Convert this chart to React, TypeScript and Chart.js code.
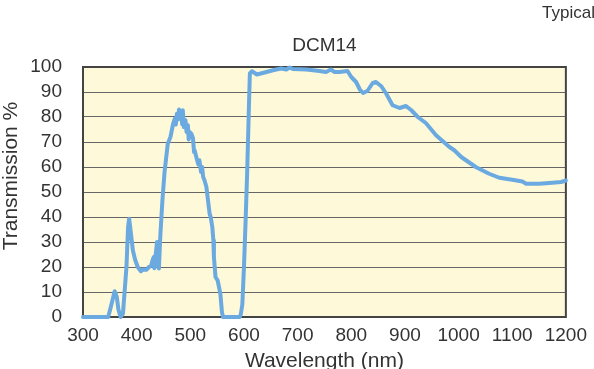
import React, { useEffect, useRef } from "react";
import { Chart, registerables } from "chart.js";

Chart.register(...registerables);

const chartTitle = "DCM14";
const cornerNote = "Typical";
const xAxisTitle = "Wavelength (nm)";
const yAxisTitle = "Transmission %";

const wavelengths = [
  300, 347, 353, 359, 363, 366, 370, 374.5, 381, 384, 386, 389, 393, 397, 402, 408, 412, 418, 423, 427,
  430, 432, 433, 436, 438, 440, 441.5, 444, 448, 452, 458, 463, 468, 471, 473, 475, 477, 479, 481, 483,
  485, 486, 488, 491, 493, 495.5, 497, 499, 502, 505, 507, 508, 512, 515, 517, 520, 522, 524, 526.6, 530,
  533, 536, 538, 541, 543, 544, 545, 547, 551, 556, 559, 561, 592, 594, 597, 600, 603, 606, 609, 611,
  615, 624, 642, 654, 669, 679, 685, 691, 716, 741, 753, 762, 769, 778, 793, 800, 809, 816, 822, 830,
  840, 846, 856, 865, 877, 890, 902, 912, 924, 939, 958, 983, 992, 1005, 1032, 1057, 1076, 1100, 1119, 1126,
  1150, 1175, 1191, 1200,
];

const transmission = [
  0, 0, 5, 10.3, 8, 3, 0, 1.4, 20, 36, 39.3, 34, 26.6, 23, 20, 18.3, 19, 18.9, 20, 20.6,
  23, 24, 19.5, 26, 30, 22, 19.4, 32, 46.6, 58, 69.3, 72, 77.3, 79.3, 77, 81.3, 79, 83, 79.5, 80.7,
  77, 82.7, 76, 78.7, 74, 76.7, 71, 74, 73.3, 71.5, 66, 66.7, 63.3, 61, 62.7, 58, 60, 56, 54.6, 52,
  46.6, 41.3, 40, 36, 30.6, 24, 21.3, 16, 14.6, 9.3, 1.9, 0, 0, 1, 5, 20, 38, 58, 82, 97.4,
  98.3, 97, 98, 98.7, 99.4, 99, 99.8, 99.2, 99, 98.4, 98, 99, 98, 98, 98.4, 96, 94, 91, 89.6, 90.4,
  93.6, 94, 92.3, 89.4, 84.7, 83.6, 84.4, 82.7, 80, 77.6, 72.7, 68, 66.7, 64, 60, 57.3, 55.7, 54.9, 54.2, 53.3,
  53.3, 53.7, 54, 54.6,
];

const xMin = 300;
const xMax = 1200;
const xStep = 100;
const yMin = 0;
const yMax = 100;
const yStep = 10;

const FONT = "'Liberation Sans', Arial, sans-serif";
const TEXT_COLOR = "#333333";

const decorPlugin = {
  id: "decor",
  beforeDraw(chart: any) {
    const { ctx, chartArea } = chart;
    ctx.save();
    ctx.fillStyle = "#fef9d8";
    ctx.fillRect(chartArea.left, chartArea.top, chartArea.right - chartArea.left, chartArea.bottom - chartArea.top);
    ctx.restore();
  },
  beforeDatasetsDraw(chart: any) {
    const { ctx, chartArea } = chart;
    ctx.save();
    ctx.strokeStyle = "#444444";
    ctx.lineWidth = 2;
    ctx.strokeRect(chartArea.left, chartArea.top, chartArea.right - chartArea.left, chartArea.bottom - chartArea.top);
    ctx.restore();
  },
  afterDraw(chart: any) {
    const { ctx, chartArea, width } = chart;
    const cx = (chartArea.left + chartArea.right) / 2;
    ctx.save();
    ctx.fillStyle = TEXT_COLOR;
    ctx.textBaseline = "middle";
    ctx.textAlign = "center";
    ctx.font = `19px ${FONT}`;
    ctx.fillText(chartTitle, cx, 46);
    ctx.textAlign = "right";
    ctx.font = `17px ${FONT}`;
    ctx.fillText(cornerNote, width + 1, 13);
    ctx.textAlign = "center";
    ctx.font = `21px ${FONT}`;
    ctx.fillText(xAxisTitle, cx, 361);
    ctx.translate(11, 176);
    ctx.rotate(-Math.PI / 2);
    ctx.fillText(yAxisTitle, 0, 0);
    ctx.restore();
  },
};

export default function App() {
  const canvasRef = useRef<HTMLCanvasElement | null>(null);

  useEffect(() => {
    const canvas = canvasRef.current;
    if (!canvas) return;
    const points = wavelengths.map((w, i) => ({ x: w, y: transmission[i] }));
    const chart = new Chart(canvas, {
      type: "line",
      data: {
        datasets: [
          {
            data: points,
            borderColor: "#6aaae0",
            borderWidth: 4,
            pointRadius: 0,
            tension: 0,
            fill: false,
            clip: false as any,
            borderJoinStyle: "round",
            borderCapStyle: "round",
          },
        ],
      },
      options: {
        animation: false,
        responsive: false,
        maintainAspectRatio: false,
        layout: { padding: { top: 67, right: 27, left: 0, bottom: 0 } },
        plugins: {
          legend: { display: false },
          tooltip: { enabled: false },
          title: { display: false },
        },
        scales: {
          x: {
            type: "linear",
            min: xMin,
            max: xMax,
            grid: { display: false, drawTicks: false },
            border: { display: false },
            ticks: {
              stepSize: xStep,
              color: TEXT_COLOR,
              font: { family: FONT, size: 19 },
              padding: 7,
              maxRotation: 0,
              autoSkip: false,
              callback: (v: any) => String(v),
            },
            afterFit(scale: any) {
              scale.height = 52;
            },
          },
          y: {
            min: yMin,
            max: yMax,
            grid: { color: "#666666", lineWidth: 1, drawTicks: false },
            border: { display: false },
            ticks: {
              stepSize: yStep,
              color: TEXT_COLOR,
              font: { family: FONT, size: 19 },
              padding: 21,
              autoSkip: false,
              callback: (v: any) => String(v),
            },
            afterFit(scale: any) {
              scale.width = 83;
            },
          },
        },
      },
      plugins: [decorPlugin],
    });
    return () => chart.destroy();
  }, []);

  return (
    <div style={{ position: "fixed", left: 0, top: 0, width: 594, height: 369, background: "#ffffff" }}>
      <canvas ref={canvasRef} width={594} height={369} style={{ display: "block" }} />
    </div>
  );
}
